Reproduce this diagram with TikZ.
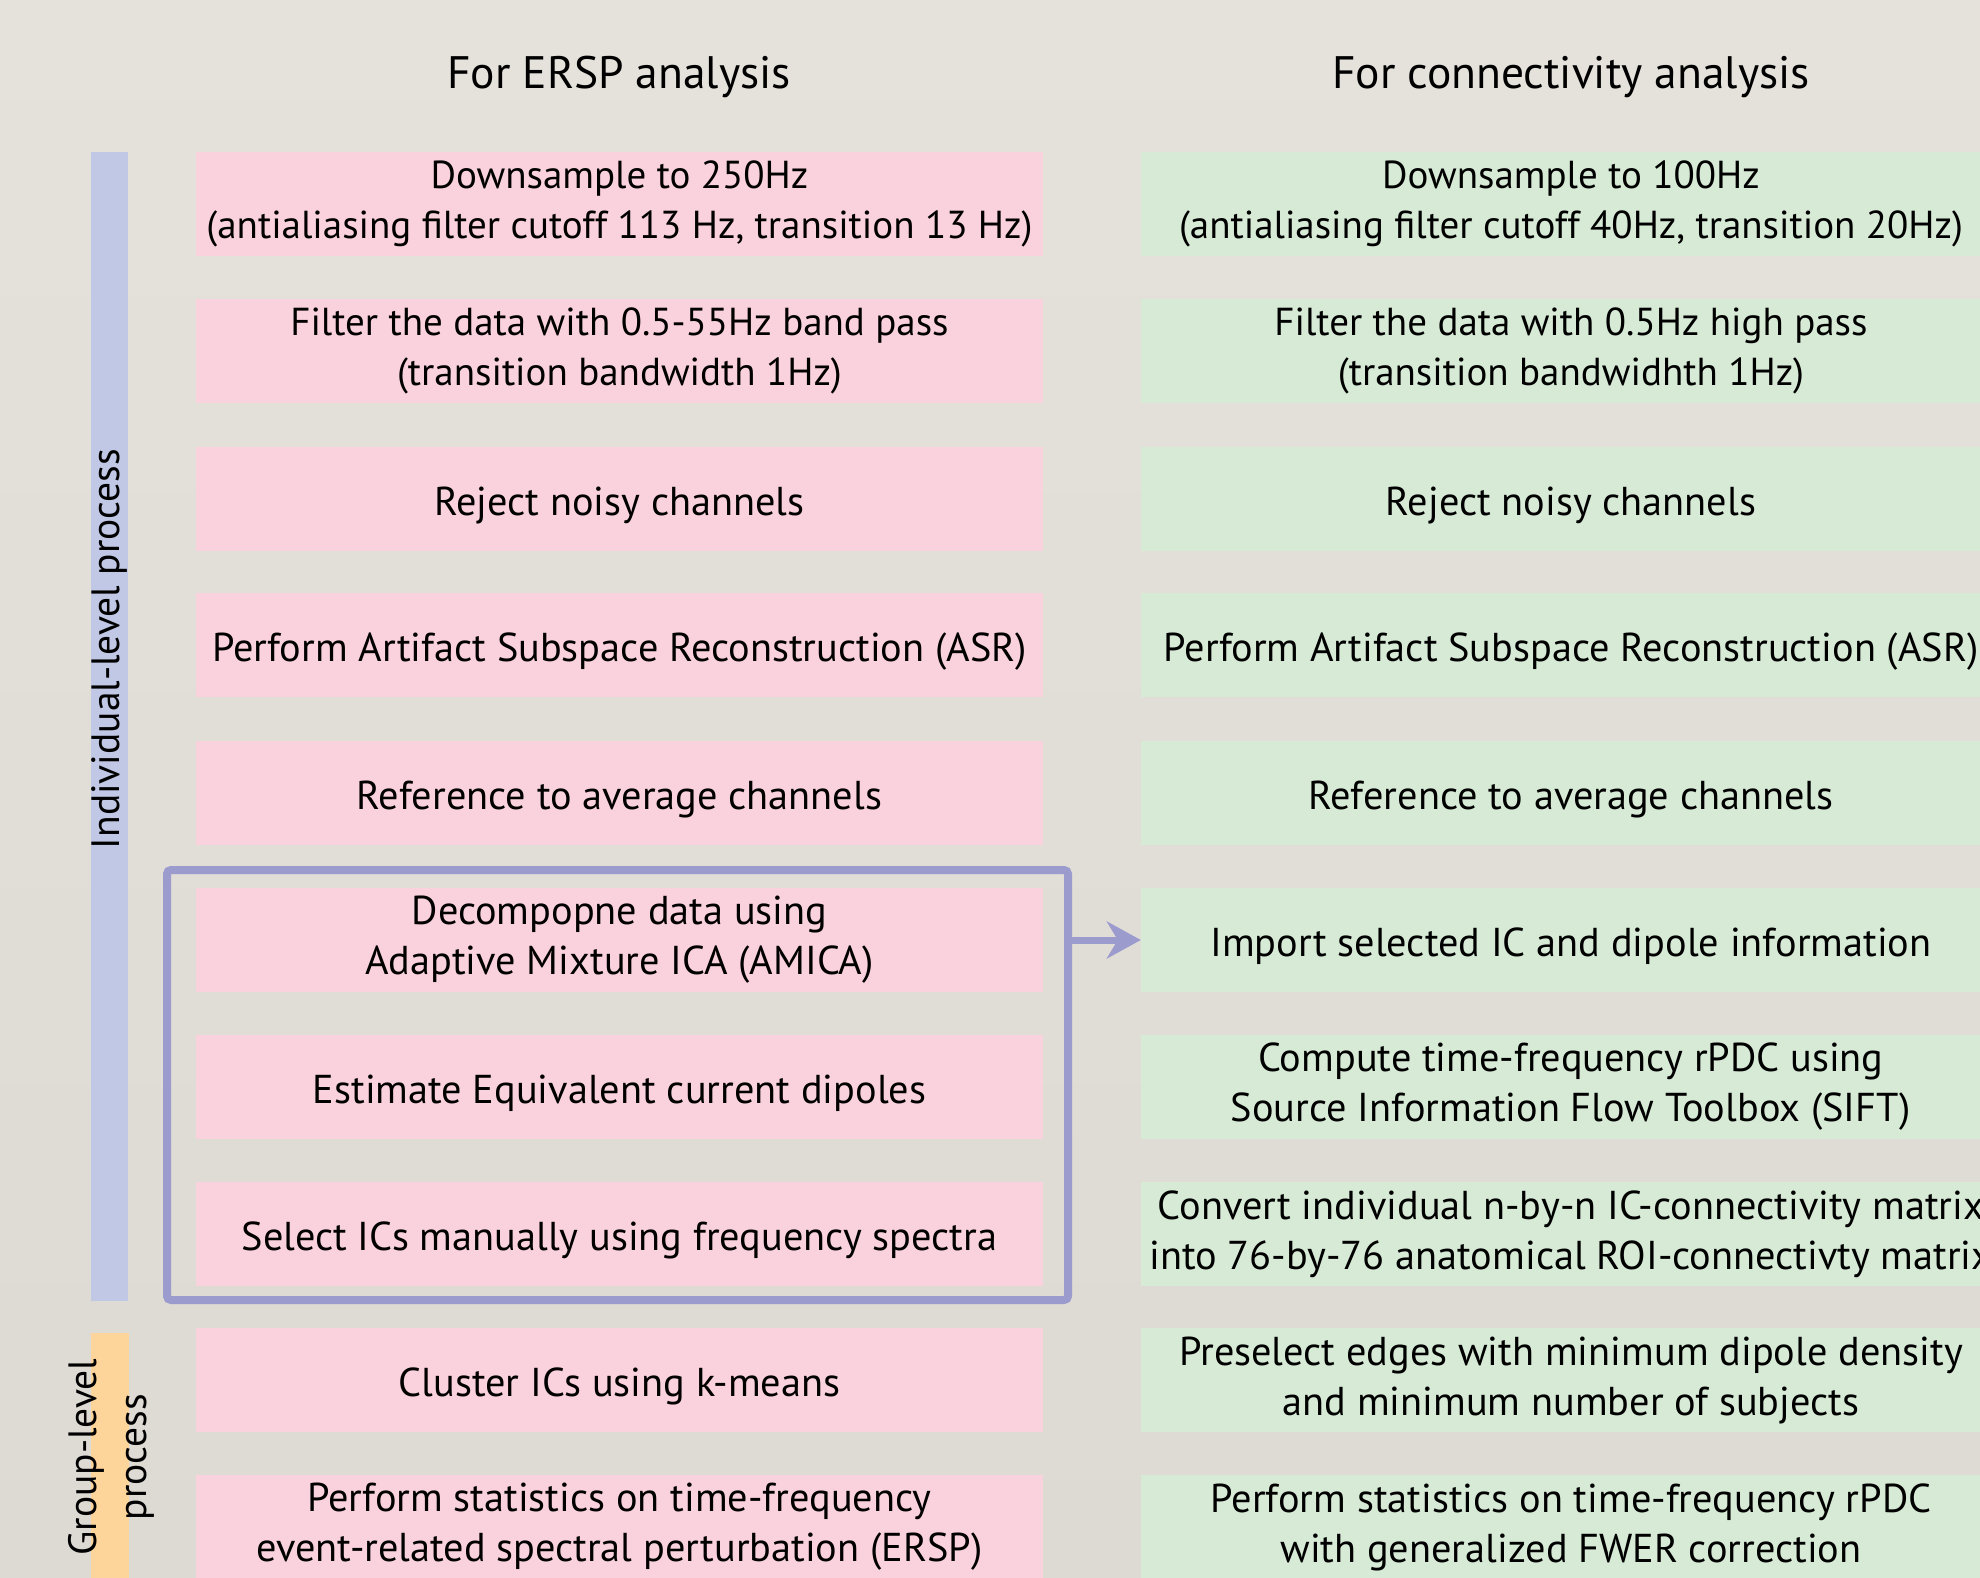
\documentclass[tikz,border=0pt]{standalone}
\usepackage{fontspec}
\setmainfont{PT Sans}
\usetikzlibrary{arrows.meta, positioning}

\definecolor{bgtop}{RGB}{229,226,220}
\definecolor{bgbot}{RGB}{221,217,211}
\definecolor{erspfill}{RGB}{250,210,222}
\definecolor{connfill}{RGB}{214,234,214}
\definecolor{indivbar}{RGB}{192,200,229}
\definecolor{groupbar}{RGB}{253,212,153}
\definecolor{framecol}{RGB}{155,155,206}

\begin{document}
\begin{tikzpicture}[x=1pt, y=-1pt,
    ersp/.style={fill=erspfill, minimum width=847pt, minimum height=104pt, inner sep=0pt, align=center, font=\fontsize{40.3}{50}\selectfont},
    conn/.style={ersp, fill=connfill, minimum width=860pt},
    oneline/.style={text height=33pt, text depth=0pt},
    narrow/.style={font=\fontsize{39}{50}\selectfont},
    side/.style={rotate=90, align=center, inner sep=0pt, font=\fontsize{39.5}{50}\selectfont},
    header/.style={font=\fontsize{45.5}{52}\selectfont}]
% Canvas and background
\useasboundingbox (0,0) rectangle (1980,1578);
\shade[top color=bgtop, bottom color=bgbot] (0,0) rectangle (1980,1578);

% Side bars
\fill[indivbar] (91,152) rectangle (128,1301);
\fill[groupbar] (91,1333) rectangle (129,1578);
\node[side] (indiv) at (109,649) {Individual-level process};
\node[side] (group) at (111,1457) {Group-level\\process};

% Column headers
\node[header] (hersp) at (619,77) {For ERSP analysis};
\node[header] (hconn) at (1571,77) {For connectivity analysis};

% ERSP pipeline
\node[ersp, narrow] (e1) at (619.5,204) {Downsample to 250Hz\\(antialiasing filter cutoff 113 Hz, transition 13 Hz)};
\node[ersp, narrow] (e2) at (619.5,351) {Filter the data with 0.5-55Hz band pass\\(transition bandwidth 1Hz)};
\node[ersp, oneline] (e3) at (619.5,499) {Reject noisy channels};
\node[ersp, oneline] (e4) at (619.5,645) {Perform Artifact Subspace Reconstruction (ASR)};
\node[ersp, oneline] (e5) at (619.5,793) {Reference to average channels};
\node[ersp] (e6) at (619.5,940) {Decompopne data using\\Adaptive Mixture ICA (AMICA)};
\node[ersp, oneline] (e7) at (619.5,1087) {Estimate Equivalent current dipoles};
\node[ersp, oneline] (e8) at (619.5,1234) {Select ICs manually using frequency spectra};
\node[ersp, oneline] (e9) at (619.5,1380) {Cluster ICs using k-means};
\node[ersp] (e10) at (619.5,1527) {Perform statistics on time-frequency\\event-related spectral perturbation (ERSP)};

% Connectivity pipeline
\node[conn, narrow] (c1) at (1571,204) {Downsample to 100Hz\\(antialiasing filter cutoff 40Hz, transition 20Hz)};
\node[conn, narrow] (c2) at (1571,351) {Filter the data with 0.5Hz high pass\\(transition bandwidhth 1Hz)};
\node[conn, oneline] (c3) at (1571,499) {Reject noisy channels};
\node[conn, oneline] (c4) at (1571,645) {Perform Artifact Subspace Reconstruction (ASR)};
\node[conn, oneline] (c5) at (1571,793) {Reference to average channels};
\node[conn, oneline] (c6) at (1571,940) {Import selected IC and dipole information};
\node[conn] (c7) at (1571,1087) {Compute time-frequency rPDC using\\Source Information Flow Toolbox (SIFT)};
\node[conn] (c8) at (1571,1234) {Convert individual n-by-n IC-connectivity matrix\\into 76-by-76 anatomical ROI-connectivty matrix};
\node[conn] (c9) at (1571,1380) {Preselect edges with minimum dipole density\\and minimum number of subjects};
\node[conn] (c10) at (1571,1527) {Perform statistics on time-frequency rPDC\\with generalized FWER correction};

% ICA block handed over to connectivity
\node[draw=framecol, line width=8pt, rounded corners=4pt, minimum width=901pt, minimum height=430pt] (icabox) at (617.5,1085) {};
\draw[framecol, line width=7pt, -{Stealth[length=34pt, width=37pt, inset=11pt]}] (icabox.east |- c6.west) -- (c6.west);
\end{tikzpicture}
\end{document}
